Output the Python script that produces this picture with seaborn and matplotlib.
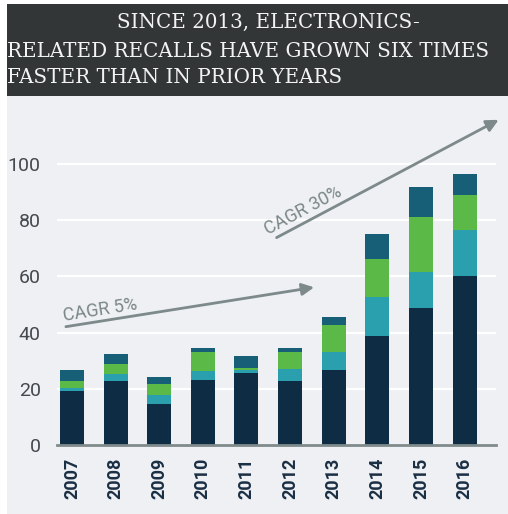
import matplotlib
matplotlib.use("Agg")
import matplotlib.pyplot as plt
import seaborn as sns
import numpy as np
import pandas as pd
from matplotlib.patches import Rectangle

# ---- data ----
years = ["2007", "2008", "2009", "2010", "2011", "2012", "2013", "2014", "2015", "2016"]
seg_navy = [19.3, 22.7, 14.6, 23.1, 25.7, 22.7, 26.7, 38.7, 48.6, 60.1]
seg_teal = [1.1, 2.5, 3.1, 3.3, 1.0, 4.5, 6.3, 13.9, 13.0, 16.4]
seg_green = [2.5, 3.6, 3.9, 6.7, 0.7, 6.0, 9.6, 13.7, 19.4, 12.5]
seg_dark = [3.8, 3.6, 2.7, 1.5, 4.3, 1.4, 2.8, 8.7, 10.7, 7.3]
y_ticks = [0, 20, 40, 60, 80, 100]
title_lines = ["SINCE 2013, ELECTRONICS-",
               "RELATED RECALLS HAVE GROWN SIX TIMES",
               "FASTER THAN IN PRIOR YEARS"]
cagr_labels = ["CAGR 5%", "CAGR 30%"]

sns.set_theme(style="white")
plt.rcParams['font.family'] = ['Roboto', 'DejaVu Sans']

W, H = 508, 514
fig = plt.figure(figsize=(W / 100, H / 100), dpi=100)
fig.patch.set_facecolor("white")

# panel background and title bar
fig.patches.append(Rectangle((7 / W, 0), 1 - 7 / W, 1 - 96 / H, transform=fig.transFigure,
                             facecolor="#eef0f4", edgecolor="none", zorder=-10))
fig.patches.append(Rectangle((7 / W, 1 - 96 / H), 1 - 7 / W, (96 - 4) / H, transform=fig.transFigure,
                             facecolor="#333637", edgecolor="none", zorder=-10))

ax = fig.add_axes([57.3 / W, 69 / H, (496 - 57.3) / W, (445 - 110) / H])
ax.set_facecolor("none")

df = pd.DataFrame({"year": years,
                   "navy": seg_navy, "teal": seg_teal, "green": seg_green, "dark": seg_dark})
df["c1"] = df["navy"]
df["c2"] = df["c1"] + df["teal"]
df["c3"] = df["c2"] + df["green"]
df["c4"] = df["c3"] + df["dark"]

colors = {"c4": "#165f77", "c3": "#5ab947", "c2": "#2aa0ae", "c1": "#0e2d44"}
for col in ["c4", "c3", "c2", "c1"]:
    sns.barplot(data=df, x="year", y=col, color=colors[col], width=0.55,
                saturation=1, edgecolor="none", ax=ax, zorder=3)

ax.set_xlim(-0.337, 9.72)
ax.set_ylim(0, 119.2)
ax.set_yticks(y_ticks)
ax.set_yticklabels([str(v) for v in y_ticks])
ax.yaxis.grid(True, color="white", lw=1.6, zorder=0)
ax.set_axisbelow(True)
for s in ["top", "right", "left"]:
    ax.spines[s].set_visible(False)
ax.spines["bottom"].set_color("#7f8a8b")
ax.spines["bottom"].set_linewidth(2)
ax.spines["bottom"].set_zorder(5)
ax.set_xlabel("")
ax.set_ylabel("")
ax.tick_params(axis="y", length=0, pad=12, labelsize=14, labelcolor="#44494f")
ax.tick_params(axis="x", length=0, pad=9, labelsize=13, labelcolor="#1b2f44", rotation=90)
for lbl in ax.get_xticklabels():
    lbl.set_fontweight("bold")

# CAGR arrows
arrow_color = "#7d898a"
ax.annotate("", xy=(5.55, 56.1), xytext=(-0.14, 42.1), annotation_clip=False,
            arrowprops=dict(arrowstyle="-|>", color=arrow_color, lw=2, mutation_scale=18,
                            shrinkA=0, shrinkB=0), zorder=6)
ax.annotate("", xy=(9.78, 115.7), xytext=(4.69, 73.8), annotation_clip=False,
            arrowprops=dict(arrowstyle="-|>", color=arrow_color, lw=2, mutation_scale=18,
                            shrinkA=0, shrinkB=0), zorder=6)
ax.text(0.64, 48.0, cagr_labels[0], rotation=9, ha="center", va="center",
        rotation_mode="anchor", fontsize=13, color="#7c8788")
ax.text(5.30, 83.3, cagr_labels[1], rotation=28, ha="center", va="center",
        rotation_mode="anchor", fontsize=13, color="#7c8788")

# title
tfont = dict(family=["DejaVu Serif"], fontsize=14.3, color="#f3f3f3", va="baseline")
fig.text(268 / W, 1 - 28 / H, title_lines[0], ha="center", **tfont)
fig.text(7 / W, 1 - 57 / H, title_lines[1], ha="left", **tfont)
fig.text(7 / W, 1 - 83 / H, title_lines[2], ha="left", **tfont)

fig.savefig("out.png", dpi=100, facecolor=fig.get_facecolor())
